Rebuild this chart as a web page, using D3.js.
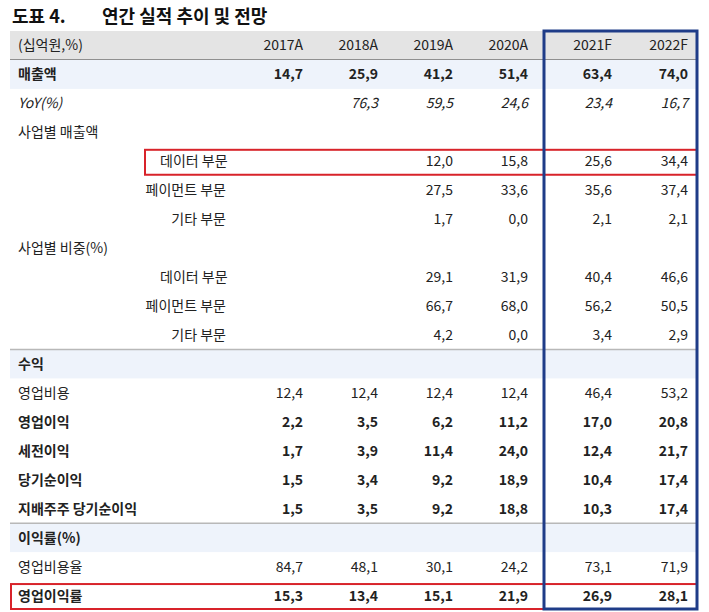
<!DOCTYPE html>
<html><head><meta charset="utf-8">
<script src="https://cdn.jsdelivr.net/npm/d3@7"></script>
<style>body{margin:0;background:#fff}</style>
</head><body><div id="chart"></div>
<script>
// table content
const years = ['2017A', '2018A', '2019A', '2020A', '2021F', '2022F'];
const rowLabels = ['(십억원,%)', '매출액', 'YoY(%)', '사업별 매출액', '데이터 부문', '페이먼트 부문', '기타 부문',
  '사업별 비중(%)', '데이터 부문', '페이먼트 부문', '기타 부문', '수익', '영업비용', '영업이익', '세전이익',
  '당기순이익', '지배주주 당기순이익', '이익률(%)', '영업비용율', '영업이익률'];
const rowValues = [
  years,
  [14.7, 25.9, 41.2, 51.4, 63.4, 74.0],
  [null, 76.3, 59.5, 24.6, 23.4, 16.7],
  [],
  [null, null, 12.0, 15.8, 25.6, 34.4],
  [null, null, 27.5, 33.6, 35.6, 37.4],
  [null, null, 1.7, 0.0, 2.1, 2.1],
  [],
  [null, null, 29.1, 31.9, 40.4, 46.6],
  [null, null, 66.7, 68.0, 56.2, 50.5],
  [null, null, 4.2, 0.0, 3.4, 2.9],
  [],
  [12.4, 12.4, 12.4, 12.4, 46.4, 53.2],
  [2.2, 3.5, 6.2, 11.2, 17.0, 20.8],
  [1.7, 3.9, 11.4, 24.0, 12.4, 21.7],
  [1.5, 3.4, 9.2, 18.9, 10.4, 17.4],
  [1.5, 3.5, 9.2, 18.8, 10.3, 17.4],
  [],
  [84.7, 48.1, 30.1, 24.2, 73.1, 71.9],
  [15.3, 13.4, 15.1, 21.9, 26.9, 28.1]
];
const boldRows = [1, 11, 13, 14, 15, 16, 17, 19];
const shadedRows = [1, 11, 17];
const leftIndented = [4, 8];
const rightIndented = [5, 6, 9, 10];
const redRows = [4, 19];

const W = 709, H = 612;
const font = "'Liberation Sans Narrow','Noto Sans CJK KR',sans-serif";
const svg = d3.select('#chart').append('svg').attr('width', W).attr('height', H);

const y = d3.scaleBand().domain(d3.range(rowLabels.length)).range([31, 610]);
// actual years and forecast years are laid out as two groups
const xActual = d3.scalePoint().domain(years.slice(0, 4)).range([303, 528]);
const xForecast = d3.scalePoint().domain(years.slice(4)).range([612, 688]);
const xr = c => years.indexOf(c) < 4 ? xActual(c) : xForecast(c);
const fmt = v => v.toFixed(1).replace('.', ',');

svg.append('text').attr('x', 12).attr('y', 23).attr('font-family', "'Noto Sans CJK KR'")
  .attr('font-weight', 700).attr('font-size', 18).attr('fill', '#111').text('도표 4.');
svg.append('text').attr('x', 102).attr('y', 23).attr('font-family', "'Noto Sans CJK KR'")
  .attr('font-weight', 700).attr('font-size', 18).attr('fill', '#111').text('연간 실적 추이 및 전망');

// header and shaded section rows
svg.append('rect').attr('x', 10).attr('y', y(0)).attr('width', 688).attr('height', y.bandwidth())
  .attr('fill', '#e4e4e4');
svg.append('line').attr('x1', 10).attr('x2', 698).attr('y1', y(1)).attr('y2', y(1))
  .attr('stroke', '#8a8a8a').attr('stroke-width', 2);
shadedRows.forEach(r => {
  svg.append('rect').attr('x', 10).attr('y', y(r)).attr('width', 688).attr('height', y.bandwidth())
    .attr('fill', '#eef3fb');
});
[11, 17].forEach(r => {
  svg.append('line').attr('x1', 10).attr('x2', 698).attr('y1', y(r)).attr('y2', y(r))
    .attr('stroke', '#b8b8b8').attr('stroke-width', 1.5);
});

const rows = svg.selectAll('g.row').data(rowLabels).join('g')
  .attr('transform', (d, i) => `translate(0,${y(i) + y.bandwidth() / 2 + 5})`);

rows.append('text')
  .attr('x', (d, i) => leftIndented.includes(i) ? 160 : rightIndented.includes(i) ? 226 : 18)
  .attr('text-anchor', (d, i) => rightIndented.includes(i) ? 'end' : 'start')
  .attr('font-family', font).attr('font-size', 14).attr('fill', '#222')
  .attr('font-weight', (d, i) => boldRows.includes(i) ? 700 : 400)
  .attr('font-style', (d, i) => i === 2 ? 'italic' : 'normal')
  .text(d => d);

rows.each(function (d, i) {
  const vals = rowValues[i];
  d3.select(this).selectAll('text.v').data(vals.map((v, j) => [years[j], v]).filter(p => p[1] !== null))
    .join('text').attr('class', 'v')
    .attr('x', p => xr(p[0])).attr('text-anchor', 'end')
    .attr('font-family', font).attr('font-size', 14).attr('fill', '#222')
    .attr('font-weight', boldRows.includes(i) ? 700 : 400)
    .attr('font-style', i === 2 ? 'italic' : 'normal')
    .text(p => typeof p[1] === 'number' ? fmt(p[1]) : p[1]);
});

// highlight boxes
redRows.forEach(r => {
  const x0 = r === 4 ? 145 : 11;
  svg.append('rect').attr('x', x0).attr('y', y(r) + 3).attr('width', 697 - x0)
    .attr('height', y.bandwidth() - 4).attr('fill', 'none').attr('stroke', '#d8232a').attr('stroke-width', 2);
});
svg.append('rect').attr('x', 544).attr('y', 31).attr('width', 153).attr('height', 578)
  .attr('fill', 'none').attr('stroke', '#1f3c88').attr('stroke-width', 3);
</script></body></html>
